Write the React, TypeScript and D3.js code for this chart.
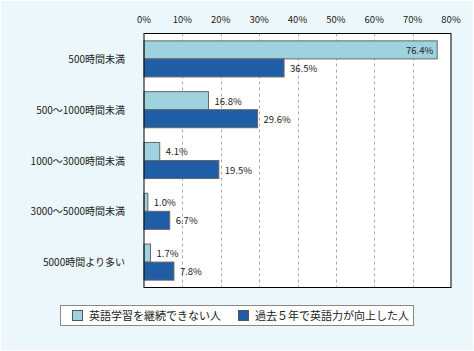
import React, { useEffect, useRef } from "react";
import * as d3 from "d3";

const categories = [
  "500時間未満",
  "500～1000時間未満",
  "1000～3000時間未満",
  "3000～5000時間未満",
  "5000時間より多い",
];
const seriesNames = ["英語学習を継続できない人", "過去５年で英語力が向上した人"];
const cannotContinue = [76.4, 16.8, 4.1, 1.0, 1.7];
const improved = [36.5, 29.6, 19.5, 6.7, 7.8];
const ticks = [0, 10, 20, 30, 40, 50, 60, 70, 80];

const colors = ["#9fd2df", "#1f5da6"];
const font = "'Noto Sans CJK JP', 'DejaVu Sans', sans-serif";

const App: React.FC = () => {
  const svgRef = useRef<SVGSVGElement>(null);

  useEffect(() => {
    if (!svgRef.current) return;
    const width = 474;
    const height = 351;
    const plot = { left: 144, right: 451, top: 33.5, bottom: 287.5 };

    const svg = d3.select(svgRef.current);
    svg.selectAll("*").remove();
    svg.attr("width", width).attr("height", height);

    // background
    svg
      .append("rect")
      .attr("width", width)
      .attr("height", height)
      .attr("fill", "#ffffff");
    svg
      .append("rect")
      .attr("x", 1)
      .attr("y", 1)
      .attr("width", width - 2)
      .attr("height", height - 2)
      .attr("fill", "#ebf7fa");

    const x = d3.scaleLinear().domain([0, 80]).range([plot.left, plot.right]);
    const y = d3
      .scaleBand<string>()
      .domain(categories)
      .range([plot.top, plot.bottom])
      .paddingInner(0.29)
      .paddingOuter(0.145);
    const sub = d3
      .scaleBand<number>()
      .domain([0, 1])
      .range([0, y.bandwidth()]);

    // plot area
    svg
      .append("rect")
      .attr("x", plot.left)
      .attr("y", plot.top)
      .attr("width", plot.right - plot.left)
      .attr("height", plot.bottom - plot.top)
      .attr("fill", "#ffffff");

    // grid
    svg
      .append("g")
      .selectAll("line")
      .data(ticks.slice(1, -1))
      .join("line")
      .attr("x1", (d) => Math.round(x(d)) + 0.5)
      .attr("x2", (d) => Math.round(x(d)) + 0.5)
      .attr("y1", plot.top)
      .attr("y2", plot.bottom)
      .attr("stroke", "#aaaaaa")
      .attr("stroke-dasharray", "3,3");

    // tick labels
    svg
      .append("g")
      .selectAll("text")
      .data(ticks)
      .join("text")
      .attr("x", (d) => x(d))
      .attr("y", 23)
      .attr("text-anchor", "middle")
      .style("font-family", font)
      .style("font-size", "9.5px")
      .attr("fill", "#222")
      .text((d) => `${d}%`);

    // bars
    const series = [cannotContinue, improved];
    series.forEach((vals, si) => {
      const g = svg.append("g");
      g.selectAll("rect")
        .data(vals)
        .join("rect")
        .attr("x", plot.left)
        .attr("y", (d, i) => (y(categories[i]) as number) + (sub(si) as number))
        .attr("width", (d) => x(d) - plot.left)
        .attr("height", sub.bandwidth())
        .attr("fill", colors[si])
        .attr("stroke", "#666")
        .attr("stroke-width", 1);

      g.selectAll("text")
        .data(vals)
        .join("text")
        .attr("x", (d) => (x(d) > 400 ? x(d) - 4 : x(d) + 6))
        .attr(
          "y",
          (d, i) =>
            (y(categories[i]) as number) +
            (sub(si) as number) +
            sub.bandwidth() / 2 +
            4
        )
        .attr("text-anchor", (d) => (x(d) > 400 ? "end" : "start"))
        .style("font-family", font)
        .style("font-size", "9.5px")
        .attr("fill", "#222")
        .text((d) => `${d.toFixed(1)}%`);
    });

    // plot border
    svg
      .append("rect")
      .attr("x", plot.left)
      .attr("y", plot.top)
      .attr("width", plot.right - plot.left)
      .attr("height", plot.bottom - plot.top)
      .attr("fill", "none")
      .attr("stroke", "#000")
      .attr("stroke-width", 1);

    // category labels
    svg
      .append("g")
      .selectAll("text")
      .data(categories)
      .join("text")
      .attr("x", 125)
      .attr("y", (d) => (y(d) as number) + y.bandwidth() / 2 + 4)
      .attr("text-anchor", "end")
      .style("font-family", font)
      .style("font-size", "10px")
      .attr("fill", "#222")
      .text((d) => d);

    // legend
    const legend = svg.append("g");
    legend
      .append("rect")
      .attr("x", 60.5)
      .attr("y", 305.5)
      .attr("width", 353)
      .attr("height", 20)
      .attr("fill", "#ffffff")
      .attr("stroke", "#888");
    const legendX = [72, 238];
    seriesNames.forEach((name, i) => {
      legend
        .append("rect")
        .attr("x", legendX[i] + 0.5)
        .attr("y", 310.5)
        .attr("width", 10)
        .attr("height", 10)
        .attr("fill", colors[i])
        .attr("stroke", "#555");
      legend
        .append("text")
        .attr("x", legendX[i] + 17)
        .attr("y", 319.5)
        .style("font-family", font)
        .style("font-size", "11px")
        .attr("fill", "#222")
        .text(name);
    });
  }, []);

  return (
    <svg
      ref={svgRef}
      style={{ display: "block", position: "absolute", left: 0, top: 0 }}
    ></svg>
  );
};

export default App;
